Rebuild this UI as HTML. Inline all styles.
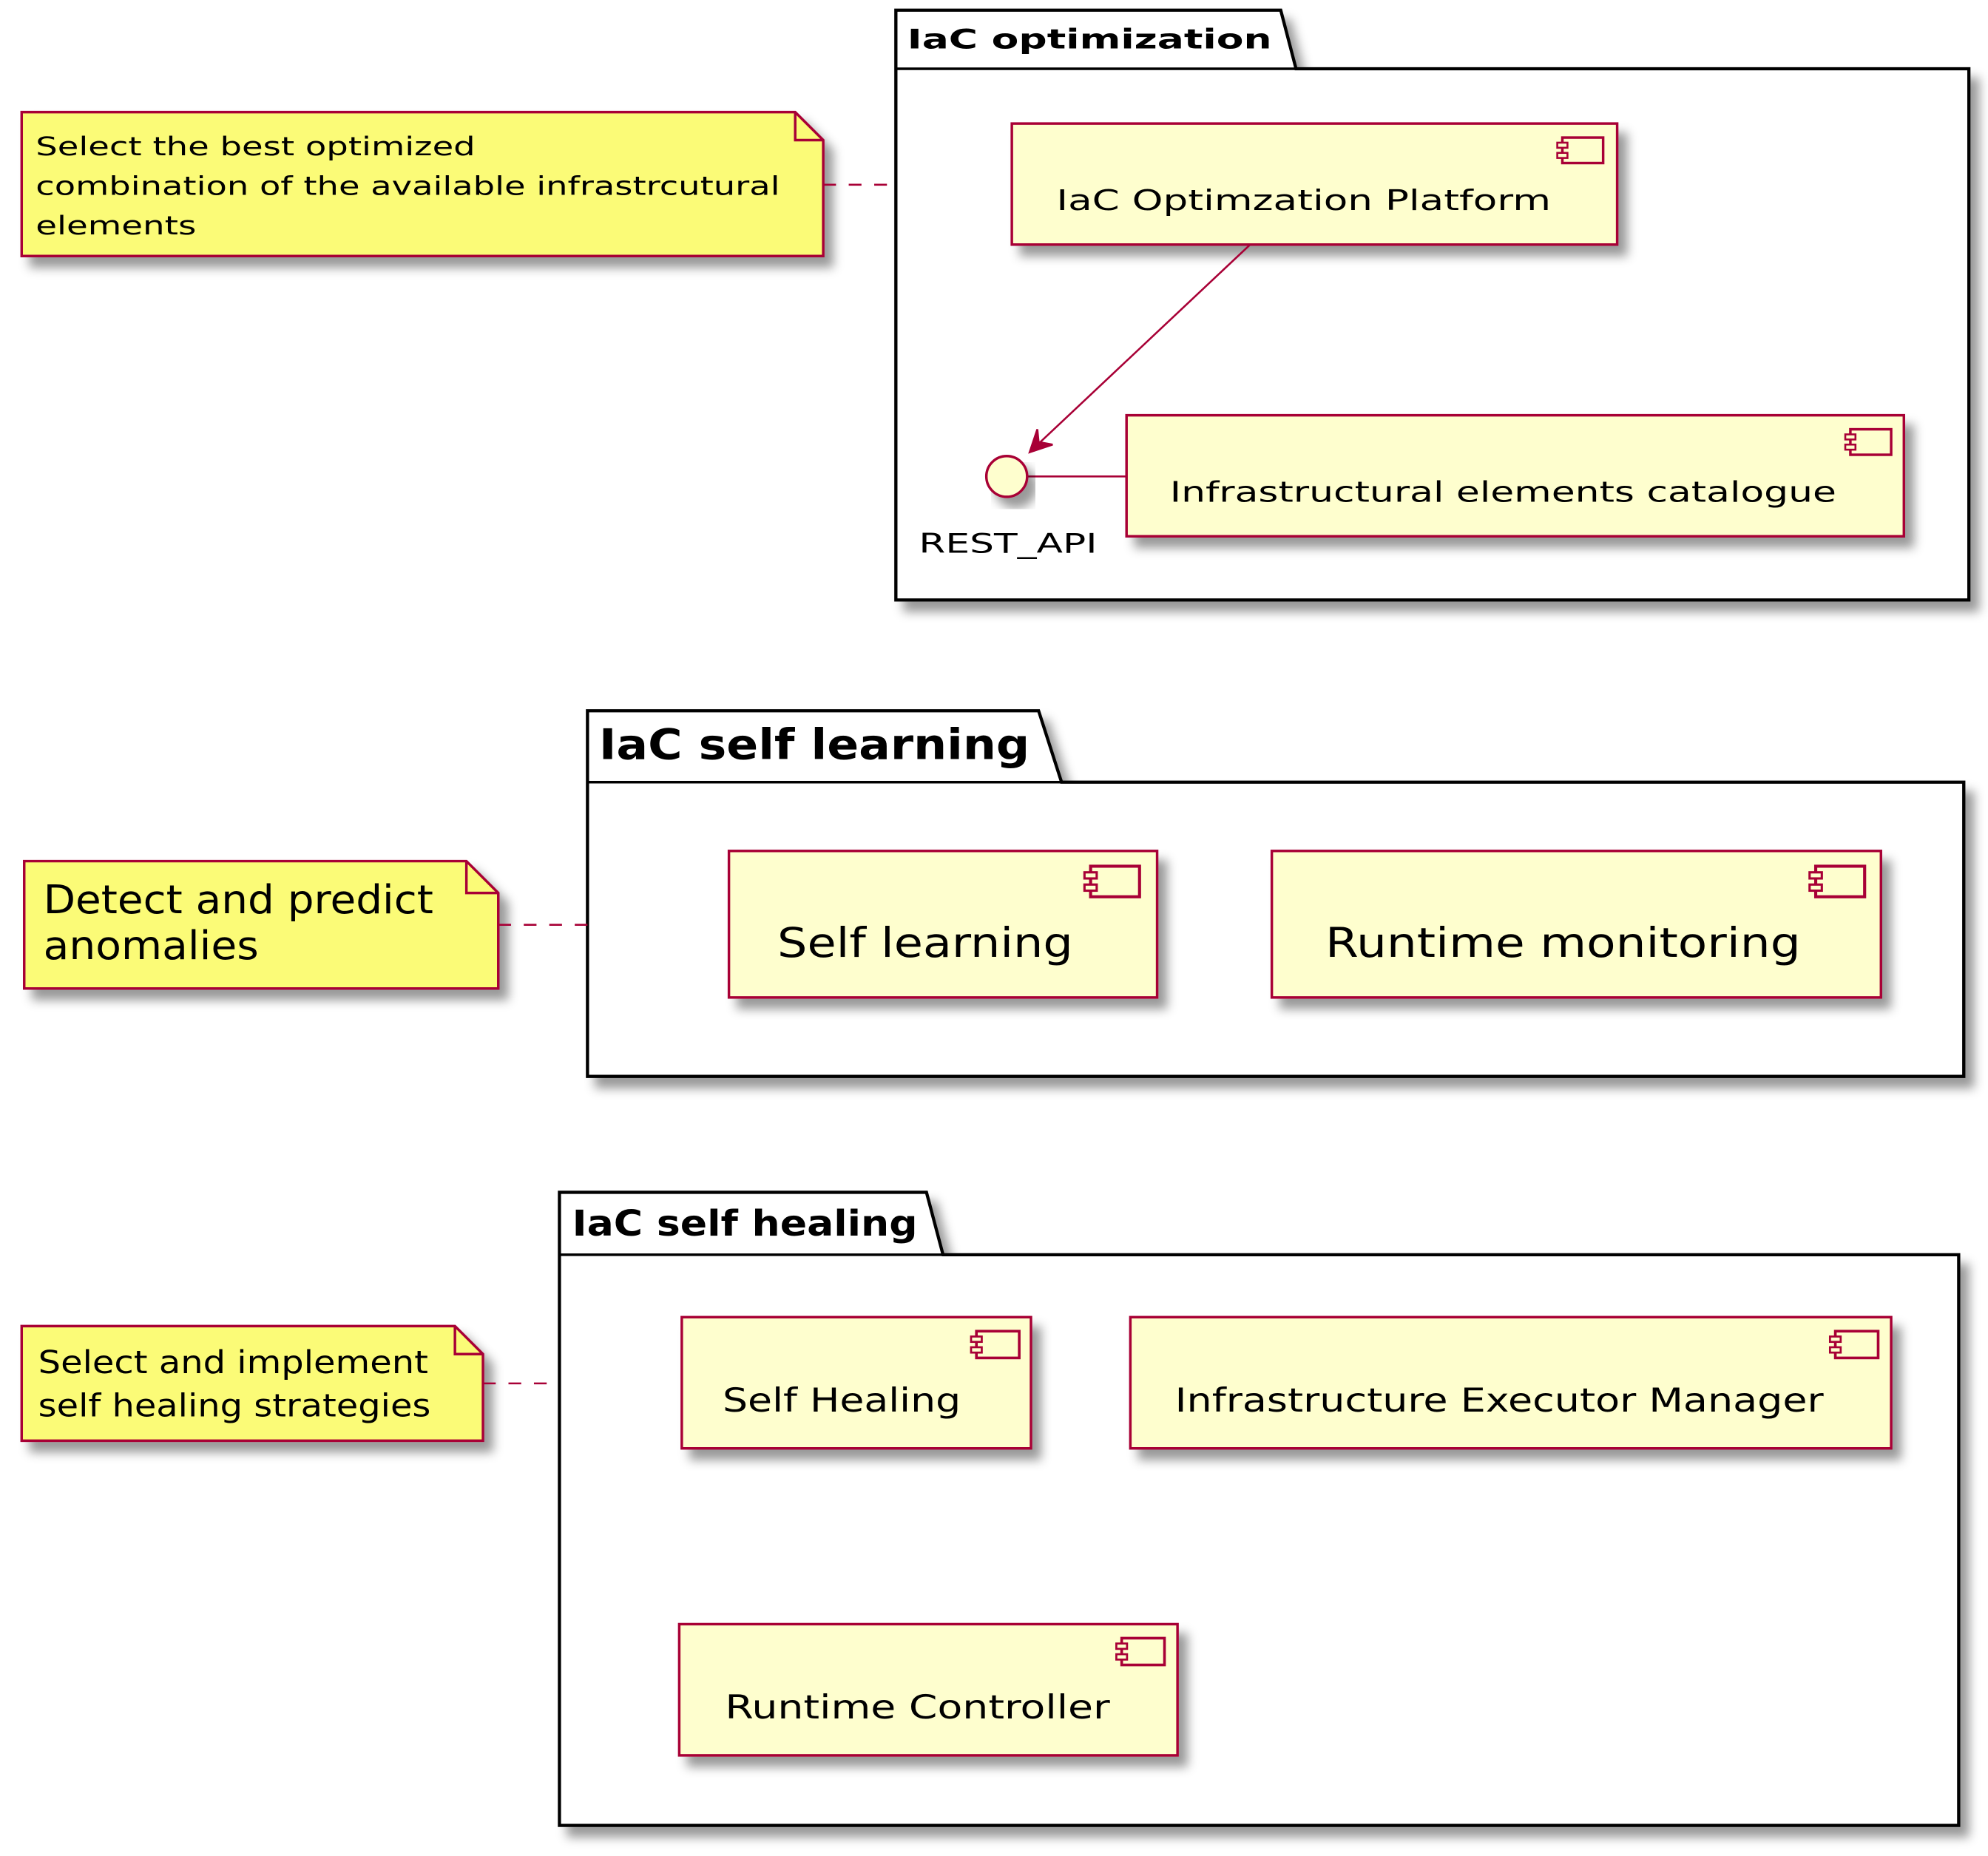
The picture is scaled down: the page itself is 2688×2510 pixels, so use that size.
<!DOCTYPE html>
<html><head><meta charset="utf-8"><style>
html,body{margin:0;padding:0;background:#fff;}
svg{display:block;}
text{font-family:"DejaVu Sans","Liberation Sans",sans-serif;fill:#000;}
</style></head><body>
<svg width="2688" height="2510" viewBox="0 0 1560 1457" preserveAspectRatio="none" xmlns="http://www.w3.org/2000/svg">
<defs>
<filter id="sh" x="-10%" y="-10%" width="130%" height="140%">
<feGaussianBlur in="SourceAlpha" stdDeviation="4"/>
<feOffset dx="7" dy="8" result="b"/>
<feFlood flood-color="#000" flood-opacity="0.4"/>
<feComposite in2="b" operator="in" result="s"/>
<feMerge><feMergeNode in="s"/><feMergeNode in="SourceGraphic"/></feMerge>
</filter>
<g id="icon"><rect x="4" y="0" width="32" height="20" fill="#FEFECE" stroke="#A80036" stroke-width="2"/><rect x="0" y="4" width="8" height="4" fill="#FEFECE" stroke="#A80036" stroke-width="1.5"/><rect x="0" y="12" width="8" height="4" fill="#FEFECE" stroke="#A80036" stroke-width="1.5"/></g>
</defs>

<g filter="url(#sh)">
<path d="M703,54 L703,8 L1005,8 L1017,54 L1545,54 L1545,471 L703,471 Z" fill="#fff" stroke="#000" stroke-width="2.5"/>
</g>
<line x1="703" y1="54" x2="1017" y2="54" stroke="#000" stroke-width="2"/>
<text x="712" y="38" font-size="21" font-weight="bold" textLength="286" lengthAdjust="spacingAndGlyphs">IaC optimization</text>

<g filter="url(#sh)">
<path d="M17,88 L624,88 L646,110 L646,201 L17,201 Z" fill="#FBFB77" stroke="#A80036" stroke-width="2"/>
</g>
<path d="M624,88 L624,110 L646,110" fill="none" stroke="#A80036" stroke-width="2"/>
<text x="28" y="122" font-size="20" textLength="345" lengthAdjust="spacingAndGlyphs">Select the best optimized</text>
<text x="28" y="153" font-size="20" textLength="584" lengthAdjust="spacingAndGlyphs">combination of the available infrastrcutural</text>
<text x="28" y="184" font-size="20" textLength="126" lengthAdjust="spacingAndGlyphs">elements</text>
<line x1="646" y1="145" x2="703" y2="145" stroke="#A80036" stroke-width="1.5" stroke-dasharray="10,10"/>

<g filter="url(#sh)"><rect x="794" y="97" width="475" height="95" fill="#FEFECE" stroke="#A80036" stroke-width="2"/></g>
<use href="#icon" x="1222" y="108"/>
<text x="829" y="165" font-size="22" textLength="388" lengthAdjust="spacingAndGlyphs">IaC Optimzation Platform</text>

<g filter="url(#sh)"><rect x="884" y="326" width="610" height="95" fill="#FEFECE" stroke="#A80036" stroke-width="2"/></g>
<use href="#icon" x="1448" y="337"/>
<text x="918" y="394" font-size="22" textLength="523" lengthAdjust="spacingAndGlyphs">Infrastructural elements catalogue</text>

<line x1="806" y1="374" x2="884" y2="374" stroke="#A80036" stroke-width="1.5"/>
<g filter="url(#sh)"><circle cx="790" cy="374" r="16" fill="#FEFECE" stroke="#A80036" stroke-width="2"/></g>
<text x="721" y="434" font-size="21" textLength="140" lengthAdjust="spacingAndGlyphs">REST_API</text>
<line x1="981" y1="192" x2="810" y2="353" stroke="#A80036" stroke-width="1.5"/>
<path d="M808,355 L814,337 L815,347 L826,349 Z" fill="#A80036" stroke="#A80036" stroke-width="1.5"/>

<g filter="url(#sh)">
<path d="M461,614 L461,558 L815,558 L833,614 L1541,614 L1541,845 L461,845 Z" fill="#fff" stroke="#000" stroke-width="2.5"/>
</g>
<line x1="461" y1="614" x2="833" y2="614" stroke="#000" stroke-width="2"/>
<text x="470" y="596" font-size="33" font-weight="bold" textLength="338" lengthAdjust="spacingAndGlyphs">IaC self learning</text>

<g filter="url(#sh)">
<path d="M19,676 L366,676 L391,701 L391,776 L19,776 Z" fill="#FBFB77" stroke="#A80036" stroke-width="2"/>
</g>
<path d="M366,676 L366,701 L391,701" fill="none" stroke="#A80036" stroke-width="2"/>
<text x="34" y="717" font-size="31" textLength="306" lengthAdjust="spacingAndGlyphs">Detect and predict</text>
<text x="34" y="753" font-size="31" textLength="169" lengthAdjust="spacingAndGlyphs">anomalies</text>
<line x1="391" y1="726" x2="461" y2="726" stroke="#A80036" stroke-width="1.5" stroke-dasharray="10,10"/>

<g filter="url(#sh)"><rect x="572" y="668" width="336" height="115" fill="#FEFECE" stroke="#A80036" stroke-width="2"/></g>
<use href="#icon" transform="translate(851,680) scale(1.2)"/>
<text x="610" y="751" font-size="32" textLength="232" lengthAdjust="spacingAndGlyphs">Self learning</text>

<g filter="url(#sh)"><rect x="998" y="668" width="478" height="115" fill="#FEFECE" stroke="#A80036" stroke-width="2"/></g>
<use href="#icon" transform="translate(1420,680) scale(1.2)"/>
<text x="1040" y="751" font-size="32" textLength="373" lengthAdjust="spacingAndGlyphs">Runtime monitoring</text>

<g filter="url(#sh)">
<path d="M439,985 L439,936 L727,936 L740,985 L1537,985 L1537,1433 L439,1433 Z" fill="#fff" stroke="#000" stroke-width="2.5"/>
</g>
<line x1="439" y1="985" x2="740" y2="985" stroke="#000" stroke-width="2"/>
<text x="449" y="970" font-size="28" font-weight="bold" textLength="271" lengthAdjust="spacingAndGlyphs">IaC self healing</text>

<g filter="url(#sh)">
<path d="M17,1041 L357,1041 L379,1063 L379,1131 L17,1131 Z" fill="#FBFB77" stroke="#A80036" stroke-width="2"/>
</g>
<path d="M357,1041 L357,1063 L379,1063" fill="none" stroke="#A80036" stroke-width="2"/>
<text x="30" y="1078" font-size="25" textLength="306" lengthAdjust="spacingAndGlyphs">Select and implement</text>
<text x="30" y="1112" font-size="25" textLength="308" lengthAdjust="spacingAndGlyphs">self healing strategies</text>
<line x1="379" y1="1086" x2="439" y2="1086" stroke="#A80036" stroke-width="1.5" stroke-dasharray="10,10"/>

<g filter="url(#sh)"><rect x="535" y="1034" width="274" height="103" fill="#FEFECE" stroke="#A80036" stroke-width="2"/></g>
<use href="#icon" transform="translate(762,1045) scale(1.05)"/>
<text x="567" y="1108" font-size="26" textLength="187" lengthAdjust="spacingAndGlyphs">Self Healing</text>

<g filter="url(#sh)"><rect x="887" y="1034" width="597" height="103" fill="#FEFECE" stroke="#A80036" stroke-width="2"/></g>
<use href="#icon" transform="translate(1436,1045) scale(1.05)"/>
<text x="922" y="1108" font-size="26" textLength="509" lengthAdjust="spacingAndGlyphs">Infrastructure Executor Manager</text>

<g filter="url(#sh)"><rect x="533" y="1275" width="391" height="103" fill="#FEFECE" stroke="#A80036" stroke-width="2"/></g>
<use href="#icon" transform="translate(876,1286) scale(1.05)"/>
<text x="569" y="1349" font-size="26" textLength="302" lengthAdjust="spacingAndGlyphs">Runtime Controller</text>
</svg>
</body></html>
